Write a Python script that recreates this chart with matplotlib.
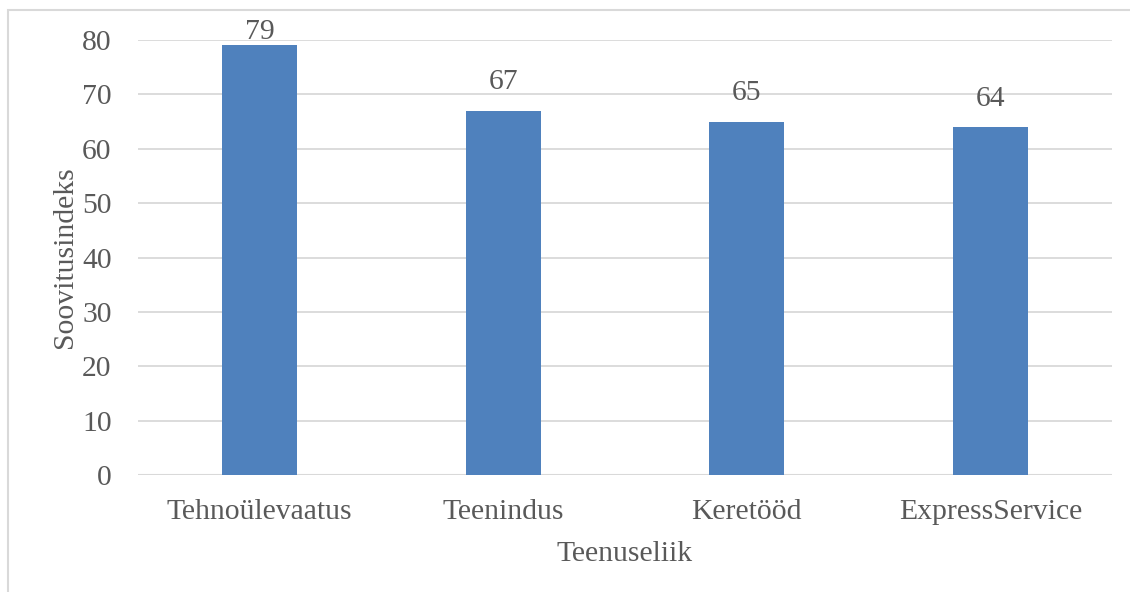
import matplotlib
matplotlib.use("Agg")
import matplotlib.pyplot as plt
from matplotlib.patches import Rectangle

categories = ["Tehnoülevaatus", "Teenindus", "Keretööd", "ExpressService"]
values = [79, 67, 65, 64]
yticks = [0, 10, 20, 30, 40, 50, 60, 70, 80]
label_offsets = [0, 11, 11, 11]

plt.rcParams['font.family'] = ['Liberation Serif', 'DejaVu Serif']
text_color = '#595959'
bar_color = '#4F81BD'
grid_color = '#D9D9D9'
fs = 21.3

fig = plt.figure(figsize=(11.3, 5.92), dpi=100)
ax = fig.add_axes([138/1130, 1-475/592, (1112-138)/1130, (475-40)/592])

x = list(range(len(categories)))
bars = ax.bar(x, values, width=0.31, color=bar_color, zorder=3)
ax.set_xlim(-0.5, len(categories)-0.5)
ax.set_ylim(0, 80)
ax.set_yticks(yticks)
ax.grid(axis='y', color=grid_color, linewidth=1.3, zorder=0)
for s in ax.spines.values():
    s.set_visible(False)
ax.axhline(0, color=grid_color, linewidth=1.5, zorder=2)
ax.tick_params(axis='both', length=0, labelsize=fs, colors=text_color)
ax.tick_params(axis='y', pad=19)
ax.tick_params(axis='x', pad=17)
ax.set_xticks(x)
ax.set_xticklabels(categories)

for xi, v, off in zip(x, values, label_offsets):
    ax.annotate(str(v), (xi, v), xytext=(0, off), textcoords='offset points',
                ha='center', va='bottom', fontsize=fs, color=text_color, zorder=4)

ax.set_ylabel("Soovitusindeks", fontsize=fs, color=text_color, labelpad=3)
ax.set_xlabel("Teenuseliik", fontsize=fs, color=text_color, labelpad=12)

fig.add_artist(Rectangle((8/1130, -0.1), 1.2, 1.1 - 10/592, transform=fig.transFigure,
                         fill=False, edgecolor=grid_color, linewidth=1.5))

fig.savefig("out.png", dpi=100)
